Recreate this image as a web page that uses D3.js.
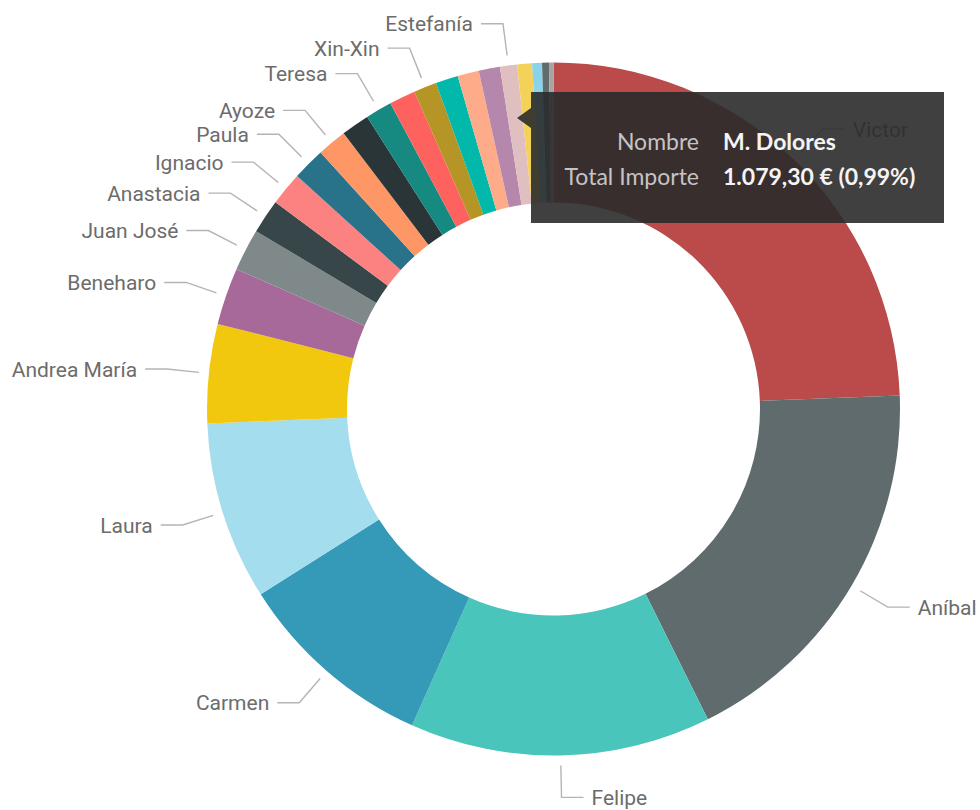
<!DOCTYPE html>
<html lang="es">
<head>
<meta charset="utf-8">
<title>Total Importe por Nombre</title>
<script src="https://cdn.jsdelivr.net/npm/d3@7/dist/d3.min.js"></script>
<style>
  html, body { margin: 0; padding: 0; background: #ffffff; }
  svg { display: block; }
</style>
</head>
<body>
<svg id="chart" width="980" height="810"></svg>
<script>
// Importe total por nombre, ordenado de mayor a menor
const nombres = [
  "Victor", "Aníbal", "Felipe", "Carmen", "Laura", "Andrea María",
  "Beneharo", "Juan José", "Anastacia", "Ignacio", "Paula", "Ayoze",
  "Rosa", "Teresa", "Pedro", "Xin-Xin", "Lucía", "Sergio",
  "M. Dolores", "Estefanía", "Marta", "Pilar", "Tomás", "Nieves"
];
const importes = [
  26640.80, 19965.35, 15345.10, 10190.40, 9082.75, 5047.80,
  2910.70, 2147.60, 1744.30, 1711.50, 1668.00, 1504.45,
  1439.10, 1351.90, 1340.95, 1166.50, 1144.70, 1090.20,
  1079.30, 872.00, 752.20, 501.50, 348.90, 229.00
];
const colores = [
  "#BB4A4A", "#5F6B6D", "#4AC5BB", "#3599B8", "#A4DDEE", "#F2C80F",
  "#A66999", "#7F898A", "#374649", "#FB8281", "#28738A", "#FE9666",
  "#293537", "#168980", "#FD625E", "#B59525", "#01B8AA", "#FDAB89",
  "#B687AC", "#DFBFBF", "#F4D25A", "#8AD4EB", "#5F6B6D", "#A8A4A4"
];
// Nombres con etiqueta de datos visible
const etiquetados = [
  "Victor", "Aníbal", "Felipe", "Carmen", "Laura", "Andrea María",
  "Beneharo", "Juan José", "Anastacia", "Ignacio", "Paula", "Ayoze",
  "Teresa", "Xin-Xin", "Estefanía"
];
// Elemento resaltado en la información sobre herramientas
const seleccionado = "M. Dolores";

const datos = nombres.map((n, i) => ({ nombre: n, importe: importes[i], color: colores[i] }));
const total = d3.sum(datos, d => d.importe);

const es = d3.formatLocale({ decimal: ",", thousands: ".", grouping: [3], currency: ["", " €"] });
const fmtImporte = es.format("$,.2f");
const fmtPct = es.format(".2%");

const svg = d3.select("#chart");
const cx = 553.5, cy = 409;
const rExt = 346.5, rInt = 206.5;

const pie = d3.pie().sort(null).value(d => d.importe).startAngle(0).endAngle(2 * Math.PI);
const arcos = pie(datos);
const arco = d3.arc().innerRadius(rInt).outerRadius(rExt);

const g = svg.append("g").attr("transform", `translate(${cx},${cy})`);

g.selectAll("path.porcion")
  .data(arcos)
  .join("path")
  .attr("class", "porcion")
  .attr("d", arco)
  .attr("fill", d => d.data.color);

// Etiquetas con líneas guía
const arcoIni = d3.arc().innerRadius(rExt + 10).outerRadius(rExt + 10);
const arcoCodo = d3.arc().innerRadius(rExt + 42).outerRadius(rExt + 42);
const tramo = 22, hueco = 8;

const conEtiqueta = arcos.filter(d => etiquetados.includes(d.data.nombre));

const etq = g.selectAll("g.etiqueta")
  .data(conEtiqueta)
  .join("g")
  .attr("class", "etiqueta");

etq.each(function (d) {
  const mid = (d.startAngle + d.endAngle) / 2;
  const derecha = mid < Math.PI;
  const p1 = arcoIni.centroid(d);
  const p2 = arcoCodo.centroid(d);
  const p3 = [p2[0] + (derecha ? tramo : -tramo), p2[1]];
  const sel = d3.select(this);
  sel.append("polyline")
    .attr("points", [p1, p2, p3].map(p => p.join(",")).join(" "))
    .attr("fill", "none")
    .attr("stroke", "#b4b4b4")
    .attr("stroke-width", 1.4);
  sel.append("text")
    .attr("x", p3[0] + (derecha ? hueco : -hueco))
    .attr("y", p3[1])
    .attr("dy", "0.36em")
    .attr("text-anchor", derecha ? "start" : "end")
    .attr("font-family", "Roboto, 'DejaVu Sans', sans-serif")
    .attr("font-size", "21px")
    .attr("fill", "#6c6c6c")
    .text(d.data.nombre);
});

// Información sobre herramientas
const sel = datos.find(d => d.nombre === seleccionado);
const tip = svg.append("g").attr("transform", "translate(531,92)");
const tw = 413, th = 131;
tip.append("path")
  .attr("d", `M0,0 H${tw} V${th} H0 V36 L-14,26 L0,16 Z`)
  .attr("fill", "#2b2b2b")
  .attr("fill-opacity", 0.9);

const filas = [
  { k: "Nombre", v: sel.nombre },
  { k: "Total Importe", v: `${fmtImporte(sel.importe)} (${fmtPct(sel.importe / total)})` }
];
const fila = tip.selectAll("g.fila")
  .data(filas)
  .join("g")
  .attr("class", "fila")
  .attr("transform", (d, i) => `translate(0,${58 + i * 35})`);
fila.append("text")
  .attr("x", 168)
  .attr("text-anchor", "end")
  .attr("font-family", "Lato, 'Open Sans', sans-serif")
  .attr("font-size", "23px")
  .attr("fill", "#c4c4c4")
  .text(d => d.k);
fila.append("text")
  .attr("x", 192)
  .attr("font-family", "Lato, 'Open Sans', sans-serif")
  .attr("font-size", "23px")
  .attr("font-weight", "bold")
  .attr("fill", "#f4f4f4")
  .text(d => d.v);
</script>
</body>
</html>
